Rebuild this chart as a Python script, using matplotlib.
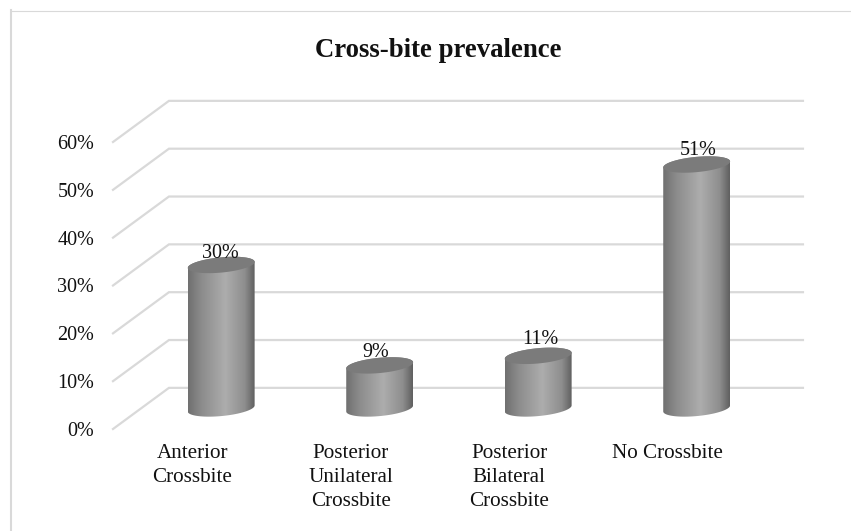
import matplotlib
matplotlib.use('Agg')

import matplotlib.pyplot as plt
import numpy as np
from matplotlib.colors import LinearSegmentedColormap
from matplotlib.lines import Line2D
from matplotlib.patches import Polygon

plt.rcParams['font.family'] = ['Liberation Serif', 'DejaVu Serif']

# Chart data
categories = ['Anterior\nCrossbite', 'Posterior\nUnilateral\nCrossbite',
              'Posterior\nBilateral\nCrossbite', 'No Crossbite']
prevalence = [30, 9, 11, 51]
value_labels = ['30%', '9%', '11%', '51%']
y_ticks = [0, 10, 20, 30, 40, 50, 60]
y_tick_labels = ['0%', '10%', '20%', '30%', '40%', '50%', '60%']
title = 'Cross-bite prevalence'

# Small per-label shifts of the value labels, in points
label_shift_x = [-0.7, -2.9, 1.4, 1.4]
label_shift_y = [8.5, 9.0, 11.5, 10.0]

# 3D look: how far the back wall sits from the front plane, in data units
depth_x = 0.353
depth_y = 8.6
bar_shift = 0.006
half_width = 0.211
tilt = 0.63
half_height = 1.6

W, H = 851, 531
fig = plt.figure(figsize=(W / 100, H / 100), dpi=100)

# Outer frame only shows on the top and left
fig.add_artist(Line2D([10.5 / W, 1], [1 - 10.5 / H, 1 - 10.5 / H], transform=fig.transFigure,
                      color='#d9d9d9', linewidth=0.8))
fig.add_artist(Line2D([11 / W, 11 / W], [0, 1 - 10 / H], transform=fig.transFigure,
                      color='#d9d9d9', linewidth=1.5))

# Front plane of the chart box
ax = fig.add_axes([113 / W, 1 - 429 / H, 634 / W, 287 / H])
ax.patch.set_alpha(0)
for s in ax.spines.values():
    s.set_visible(False)

for t in y_ticks:
    ax.plot([-0.5, -0.5 + depth_x, 3.5 + depth_x], [t, t + depth_y, t + depth_y],
            color='#d9d9d9', linewidth=1.6, clip_on=False, zorder=1,
            solid_joinstyle='miter')

shade = LinearSegmentedColormap.from_list(
    'cyl', [(0, '#707070'), (0.2, '#8c8c8c'), (0.56, '#adadad'),
            (0.85, '#8e8e8e'), (1, '#606060')])
gradient = np.linspace(0, 1, 128).reshape(1, -1)
t_up = np.linspace(0, np.pi, 60)
t_low = np.linspace(np.pi, 2 * np.pi, 60)

for i, v in enumerate(prevalence):
    cx = i + depth_x / 2 + bar_shift
    y0 = depth_y / 2
    y1 = v + depth_y / 2
    top_x = cx + half_width * np.cos(t_up)
    top_y = y1 + tilt * np.cos(t_up) + half_height * np.sin(t_up)
    low_x = cx + half_width * np.cos(t_low)
    low_y = y0 + tilt * np.cos(t_low) + half_height * np.sin(t_low)

    body = Polygon(np.column_stack([np.r_[top_x, low_x], np.r_[top_y, low_y]]),
                   closed=True, facecolor='none', edgecolor='none',
                   transform=ax.transData)
    ax.add_patch(body)
    im = ax.imshow(gradient, cmap=shade, vmin=0, vmax=1, aspect='auto',
                   extent=[cx - half_width, cx + half_width, y0 - 3, y1 + 3],
                   zorder=2, clip_on=True)
    im.set_clip_path(body)

    cap_t = np.r_[t_up, t_low]
    ax.add_patch(Polygon(
        np.column_stack([cx + half_width * np.cos(cap_t),
                         y1 + tilt * np.cos(cap_t) + half_height * np.sin(cap_t)]),
        closed=True, facecolor='#7b7b7b', edgecolor='none', zorder=3, clip_on=False))

    ax.annotate(value_labels[i], (cx, y1),
                xytext=(label_shift_x[i], label_shift_y[i]), textcoords='offset points',
                ha='center', va='center', fontsize=14.5, color='#111111', zorder=4,
                annotation_clip=False)

ax.set_xlim(-0.5, 3.5)
ax.set_ylim(0, 60)
ax.set_xticks(range(len(categories)))
ax.set_xticklabels(categories, linespacing=1.36)
ax.set_yticks(y_ticks)
ax.set_yticklabels(y_tick_labels)
ax.tick_params(axis='x', length=0, pad=10.5, labelsize=15.2, labelcolor='#111111')
ax.tick_params(axis='y', length=0, pad=13.5, labelsize=14.5, labelcolor='#111111')

fig.text(438 / W, 1 - 57 / H, title, ha='center', va='baseline', fontsize=19.3,
         fontweight='bold', color='#111111')

fig.savefig('out.png', dpi=100)
plt.close()
